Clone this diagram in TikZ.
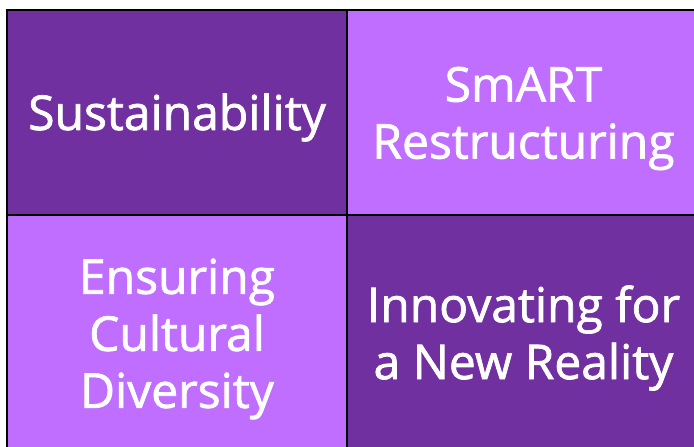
\documentclass[tikz,border=0pt]{standalone}
\usepackage{fontspec}
\setmainfont{Open Sans}
\newfontfamily\cellfont[RawFeature={embolden=1.5}]{Open Sans}
\usepackage{tikz}
\definecolor{darkviolet}{RGB}{112,48,160}
\definecolor{lightviolet}{RGB}{191,110,255}

\begin{document}
\begin{tikzpicture}[x=1pt,y=-1pt,
		cell/.style={draw=black, line width=2.5pt, rectangle, inner sep=0pt},
		dark/.style={cell, fill=darkviolet},
		light/.style={cell, fill=lightviolet},
		celltext/.style={text=white, align=center, inner sep=0pt,
			font=\cellfont\fontsize{48}{57}\selectfont}]
		\useasboundingbox (0,0) rectangle (694,447);
		\clip (0,0) rectangle (694,447);
		\node[dark, minimum width=340pt, minimum height=205pt] (sustain) at (177,112.5) {};
		\node[light, minimum width=353pt, minimum height=205pt] (smart) at (523.5,112.5) {};
		\node[light, minimum width=340pt, minimum height=240pt] (culture) at (177,335) {};
		\node[dark, minimum width=353pt, minimum height=240pt] (innov) at (523.5,335) {};
		\node[celltext] (sustaintext) at ([yshift=-5pt]sustain.center) {Sustainability};
		\node[celltext] (smarttext) at ([yshift=-6pt]smart.center) {SmART\\Restructuring};
		\node[celltext] (culturetext) at ([yshift=-4pt]culture.center) {Ensuring\\Cultural\\Diversity};
		\node[celltext] (innovtext) at ([yshift=-3pt]innov.center) {Innovating for\\a New Reality};
		
		\end{tikzpicture}
\end{document}
